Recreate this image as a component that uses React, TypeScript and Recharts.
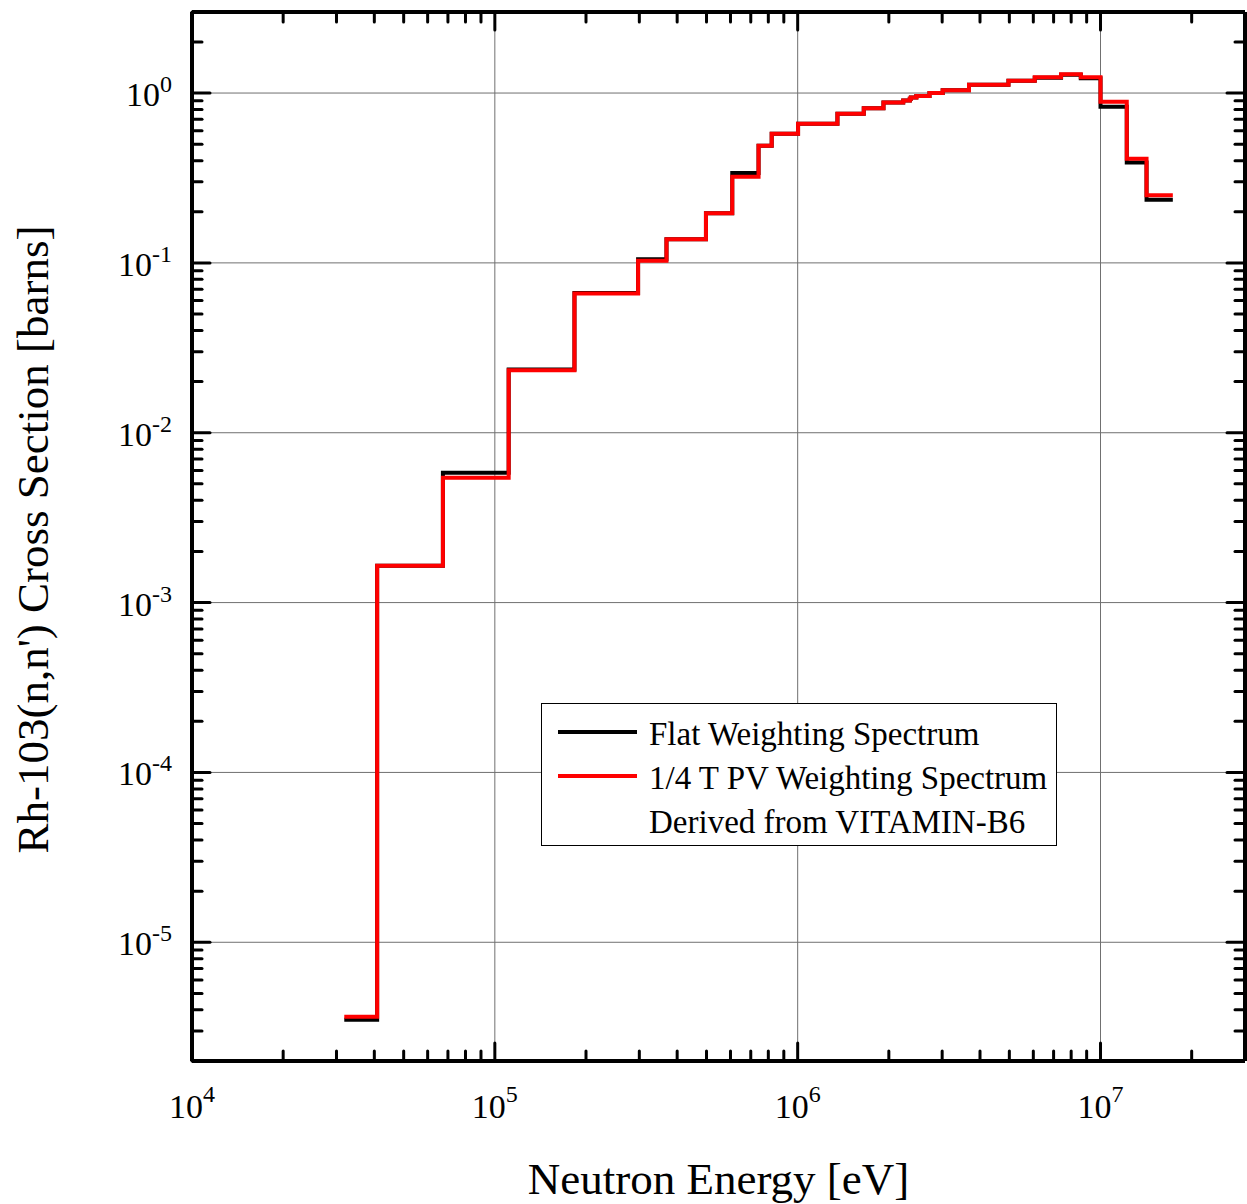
import React from 'react';
import {
  ComposedChart,
  Line,
  XAxis,
  YAxis,
  CartesianGrid,
  Legend,
} from 'recharts';

// Group lower energy edges [eV] (last value = upper edge of last group)
const energyEdges = [
  3.183e4, 4.087e4, 6.738e4, 1.111e5, 1.832e5, 2.972e5, 3.688e5, 4.979e5,
  6.081e5, 7.427e5, 8.208e5, 1.003e6, 1.353e6, 1.653e6, 1.92e6, 2.231e6,
  2.346e6, 2.365e6, 2.466e6, 2.725e6, 3.012e6, 3.679e6, 4.966e6, 6.065e6,
  7.408e6, 8.607e6, 1.0e7, 1.221e7, 1.419e7, 1.733e7,
];

// Flat weighting spectrum cross section [barns]
const flatXS = [
  3.5e-6, 1.65e-3, 5.82e-3, 2.36e-2, 6.65e-2, 0.105, 0.138, 0.196,
  0.338, 0.49, 0.575, 0.66, 0.755, 0.815, 0.88, 0.905,
  0.925, 0.94, 0.96, 1.0, 1.04, 1.12, 1.18, 1.23,
  1.28, 1.22, 0.83, 0.39, 0.235, 0.235,
];

// 1/4 T PV weighting spectrum cross section [barns]
const pvXS = [
  3.65e-6, 1.65e-3, 5.44e-3, 2.33e-2, 6.6e-2, 0.103, 0.138, 0.196,
  0.322, 0.49, 0.575, 0.66, 0.755, 0.815, 0.88, 0.905,
  0.925, 0.94, 0.96, 1.0, 1.04, 1.12, 1.18, 1.24,
  1.29, 1.24, 0.89, 0.41, 0.25, 0.25,
];

const seriesKeys = ['flat', 'pv'];
const seriesNames = ['Flat Weighting Spectrum', '1/4 T PV Weighting Spectrum'];
const seriesColors = ['#000000', '#ff0000'];
const legendExtraLine = 'Derived from VITAMIN-B6';

const xMajorTicks = [1e4, 1e5, 1e6, 1e7];
const yMajorTicks = [1e-5, 1e-4, 1e-3, 1e-2, 1e-1, 1e0];
const xDomain = [1e4, 3e7];
const yDomain = [2e-6, 3];
const xTitle = 'Neutron Energy [eV]';
const yTitle = "Rh-103(n,n') Cross Section [barns]";

const FONT = '"Liberation Serif", "Times New Roman", serif';

const multipliers = [2, 3, 4, 5, 6, 7, 8, 9];

const buildTicks = (majors: number[], lo: number, hi: number) => {
  const out: number[] = [];
  const decades = [majors[0] / 10, ...majors];
  decades.forEach((d) => {
    if (d >= lo && d <= hi) out.push(d);
    multipliers.forEach((m) => {
      const v = d * m;
      if (v > lo * 1.0001 && v < hi * 0.9999) out.push(v);
    });
  });
  return Array.from(new Set(out)).sort((a, b) => a - b);
};

const xTicks = buildTicks(xMajorTicks, xDomain[0], xDomain[1]);
const yTicks = buildTicks(yMajorTicks, yDomain[0], yDomain[1]);

const data = energyEdges.map((e, i) => ({ e, flat: flatXS[i], pv: pvXS[i] }));

const isMajor = (v: number) => {
  const l = Math.log10(v);
  return Math.abs(l - Math.round(l)) < 1e-6;
};
const expOf = (v: number) => Math.round(Math.log10(v));

const MAJOR_LEN = 18;
const MINOR_LEN = 10;
const TICK_W = 3;

const BottomTick = (props: any) => {
  const { x, y, payload } = props;
  const v = payload.value;
  const major = isMajor(v);
  const len = major ? MAJOR_LEN : MINOR_LEN;
  return (
    <g>
      <line x1={x} x2={x} y1={y} y2={y - len} stroke="#000" strokeWidth={TICK_W} strokeLinecap="round" />
      {major && (
        <text x={x} y={y + 57} textAnchor="middle" fontFamily={FONT} fontSize={34} fill="#000">
          10
          <tspan dy={-16} fontSize={24}>{expOf(v)}</tspan>
        </text>
      )}
    </g>
  );
};

const TopTick = (props: any) => {
  const { x, y, payload } = props;
  const len = isMajor(payload.value) ? MAJOR_LEN : MINOR_LEN;
  return <line x1={x} x2={x} y1={y} y2={y + len} stroke="#000" strokeWidth={TICK_W} strokeLinecap="round" />;
};

const LeftTick = (props: any) => {
  const { x, y, payload } = props;
  const v = payload.value;
  const major = isMajor(v);
  const len = major ? MAJOR_LEN : MINOR_LEN;
  return (
    <g>
      <line x1={x} x2={x + len} y1={y} y2={y} stroke="#000" strokeWidth={TICK_W} strokeLinecap="round" />
      {major && (
        <text x={x - 20} y={y + 13} textAnchor="end" fontFamily={FONT} fontSize={34} fill="#000">
          10
          <tspan dy={-14} fontSize={24}>{expOf(v)}</tspan>
        </text>
      )}
    </g>
  );
};

const RightTick = (props: any) => {
  const { x, y, payload } = props;
  const len = isMajor(payload.value) ? MAJOR_LEN : MINOR_LEN;
  return <line x1={x} x2={x - len} y1={y} y2={y} stroke="#000" strokeWidth={TICK_W} strokeLinecap="round" />;
};

const XTitle = (props: any) => {
  const vb = props.viewBox || { x: 192, y: 1061, width: 1053, height: 143 };
  return (
    <text x={vb.x + vb.width / 2} y={1194} textAnchor="middle" fontFamily={FONT} fontSize={45} fill="#000">
      {xTitle}
    </text>
  );
};

const YTitle = (props: any) => {
  const vb = props.viewBox || { x: 0, y: 12, width: 192, height: 1049 };
  const cx = vb.x + 48;
  const cy = vb.y + vb.height / 2 + 3;
  return (
    <text
      x={cx}
      y={cy}
      textAnchor="middle"
      fontFamily={FONT}
      fontSize={45}
      fill="#000"
      transform={`rotate(-90, ${cx}, ${cy})`}
    >
      {yTitle}
    </text>
  );
};

const LegendBox = () => {
  const rowStyle: React.CSSProperties = {
    display: 'flex',
    alignItems: 'center',
    height: 44,
    lineHeight: '44px',
    whiteSpace: 'nowrap',
  };
  return (
    <div
      style={{
        boxSizing: 'border-box',
        width: 516,
        height: 143,
        border: '1.5px solid #000',
        background: '#fff',
        paddingTop: 8,
        fontFamily: FONT,
        fontSize: 33,
        color: '#000',
      }}
    >
      {seriesNames.map((name, i) => (
        <div key={name} style={rowStyle}>
          <svg width={107} height={44} style={{ flex: 'none' }}>
            <line x1={16} x2={95} y1={20} y2={20} stroke={seriesColors[i]} strokeWidth={4} />
          </svg>
          <span>{name}</span>
        </div>
      ))}
      <div style={rowStyle}>
        <span style={{ display: 'inline-block', width: 107 }} />
        <span>{legendExtraLine}</span>
      </div>
    </div>
  );
};

export default function App() {
  return (
    <div style={{ position: 'absolute', left: 0, top: 0, width: 1247, height: 1204, background: '#fff' }}>
      <ComposedChart width={1247} height={1204} data={data} margin={{ top: 0, right: 0, bottom: 0, left: 0 }}>
        <CartesianGrid
          stroke="#707070"
          strokeWidth={1}
          horizontalValues={yMajorTicks}
          verticalValues={xMajorTicks}
        />
        <XAxis
          dataKey="e"
          type="number"
          scale="log"
          domain={xDomain}
          allowDataOverflow
          ticks={xTicks}
          interval={0}
          tickSize={0}
          tickMargin={0}
          tickLine={false}
          tick={<BottomTick />}
          height={143}
          axisLine={{ stroke: '#000', strokeWidth: 4 }}
          label={<XTitle />}
        />
        <XAxis
          xAxisId="top"
          orientation="top"
          dataKey="e"
          type="number"
          scale="log"
          domain={xDomain}
          allowDataOverflow
          ticks={xTicks}
          interval={0}
          tickSize={0}
          tickMargin={0}
          tickLine={false}
          tick={<TopTick />}
          height={12}
          axisLine={{ stroke: '#000', strokeWidth: 4 }}
        />
        <YAxis
          type="number"
          scale="log"
          domain={yDomain}
          allowDataOverflow
          ticks={yTicks}
          interval={0}
          tickSize={0}
          tickMargin={0}
          tickLine={false}
          tick={<LeftTick />}
          width={192}
          axisLine={{ stroke: '#000', strokeWidth: 4 }}
          label={<YTitle />}
        />
        <YAxis
          yAxisId="right"
          orientation="right"
          type="number"
          scale="log"
          domain={yDomain}
          allowDataOverflow
          ticks={yTicks}
          interval={0}
          tickSize={0}
          tickMargin={0}
          tickLine={false}
          tick={<RightTick />}
          width={2}
          axisLine={{ stroke: '#000', strokeWidth: 4 }}
        />
        {seriesKeys.map((k, i) => (
          <Line
            key={k}
            type="stepAfter"
            dataKey={k}
            name={seriesNames[i]}
            stroke={seriesColors[i]}
            strokeWidth={4}
            dot={false}
            activeDot={false}
            isAnimationActive={false}
          />
        ))}
        <Legend
          layout="vertical"
          align="center"
          verticalAlign="middle"
          content={<LegendBox />}
          wrapperStyle={{ position: 'absolute', left: 541, top: 703, width: 516, height: 143 }}
        />
      </ComposedChart>
    </div>
  );
}
